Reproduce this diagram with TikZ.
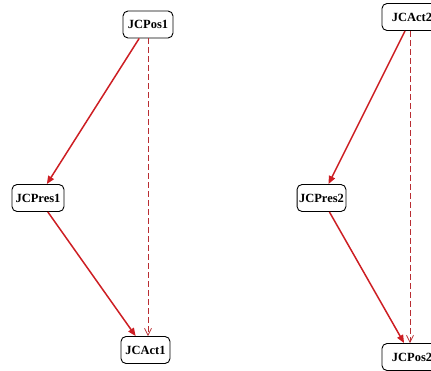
\documentclass[tikz,border=0pt]{standalone}
\usepackage{fontspec}
\setmainfont{Liberation Serif}
\usetikzlibrary{arrows.meta}
\definecolor{arrred}{RGB}{205,30,35}
\definecolor{dashred}{RGB}{185,45,50}
\tikzset{
  box/.style={draw=black, line width=0.9pt, rounded corners=5pt, fill=white,
    minimum height=27pt, inner sep=2pt, font=\bfseries\fontsize{12.5}{13}\selectfont},
  solidarr/.style={draw=arrred, line width=1.5pt, -{Triangle[length=8pt,width=6.5pt]}},
  dasharr/.style={draw=dashred, line width=0.7pt, dash pattern=on 6pt off 3pt,
    -{Straight Barb[length=7pt,width=7pt,line width=0.7pt]}}
}
\begin{document}
\begin{tikzpicture}[x=1pt,y=-1pt]
\useasboundingbox (0,0) rectangle (431,371);
\node[box, minimum width=50pt] (pos1) at (148,24.5) {JCPos1};
\node[box, minimum width=52pt] (pres1) at (38,198) {JCPres1};
\node[box, minimum width=49pt] (act1) at (145.5,350) {JCAct1};
\node[box, minimum width=60pt] (act2) at (412,17) {JCAct2};
\node[box, minimum width=48pt] (pres2) at (321.5,198) {JCPres2};
\node[box, minimum width=60pt] (pos2) at (412,357) {JCPos2};
\draw[solidarr] (pos1) -- (pres1);
\draw[solidarr] (pres1) -- (act1);
\draw[dasharr] (pos1.south) -- (pos1.south |- act1.north);
\draw[solidarr] (act2) -- (pres2);
\draw[solidarr] (pres2) -- (pos2);
\draw[dasharr] ([xshift=-2pt]act2.south) -- ([xshift=-2pt]act2.south |- pos2.north);
\end{tikzpicture}
\end{document}
